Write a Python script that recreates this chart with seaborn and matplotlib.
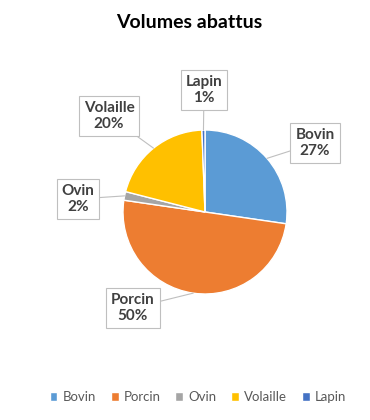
import numpy as np
import matplotlib
matplotlib.use("Agg")
import matplotlib.pyplot as plt
import seaborn as sns

# data
categories = ["Bovin", "Porcin", "Ovin", "Volaille", "Lapin"]
shares = [27.3, 50.0, 1.7, 20.4, 0.6]
pct_labels = ["27%", "50%", "2%", "20%", "1%"]
colors_hex = ["#5B9BD5", "#ED7D31", "#A5A5A5", "#FFC000", "#4472C4"]

# label box centres in pixels (from top-left)
label_pos = [(315, 143), (133, 308), (78, 199), (109, 116), (204, 90)]

W, H = 370, 420
sns.set_theme(style="white")
plt.rcParams["font.family"] = ["Lato", "DejaVu Sans"]

fig = plt.figure(figsize=(W / 100, H / 100), dpi=100)
cx, cy, r = 205, 212, 82
ax = fig.add_axes([(cx - r) / W, (H - cy - r) / H, 2 * r / W, 2 * r / H])

palette = sns.color_palette(colors_hex)
wedges, _ = ax.pie(
    shares,
    colors=palette,
    startangle=90,
    counterclock=False,
    radius=1,
    wedgeprops=dict(edgecolor="white", linewidth=1),
)
ax.set_xlim(-1, 1)
ax.set_ylim(-1, 1)
ax.set_aspect("equal")
ax.axis("off")

for w, cat, pct, (lx, ly) in zip(wedges, categories, pct_labels, label_pos):
    mid = np.deg2rad((w.theta1 + w.theta2) / 2)
    ax.annotate(
        f"{cat}\n{pct}",
        xy=(np.cos(mid), np.sin(mid)),
        xycoords="data",
        xytext=(lx, H - ly),
        textcoords="figure pixels",
        ha="center", va="center",
        fontsize=11, fontweight="bold", color="#404040",
        linespacing=1.25,
        bbox=dict(boxstyle="square,pad=0.32", fc="white", ec="#BFBFBF", lw=0.8),
        arrowprops=dict(arrowstyle="-", color="#BFBFBF", lw=0.8,
                        shrinkA=0, shrinkB=0),
        annotation_clip=False,
    )

fig.text(189 / W, 1 - 22 / H, "Volumes abattus", ha="center", va="center",
         fontsize=14, fontweight="bold", color="black")

fig.legend(
    wedges, categories,
    loc="center", bbox_to_anchor=(198 / W, (H - 397) / H),
    ncol=5, frameon=False, fontsize=9.5,
    handlelength=0.6, handleheight=0.6, handletextpad=0.4,
    columnspacing=1.1, labelcolor="#595959",
)

fig.savefig("out.png", dpi=100, facecolor="white")
